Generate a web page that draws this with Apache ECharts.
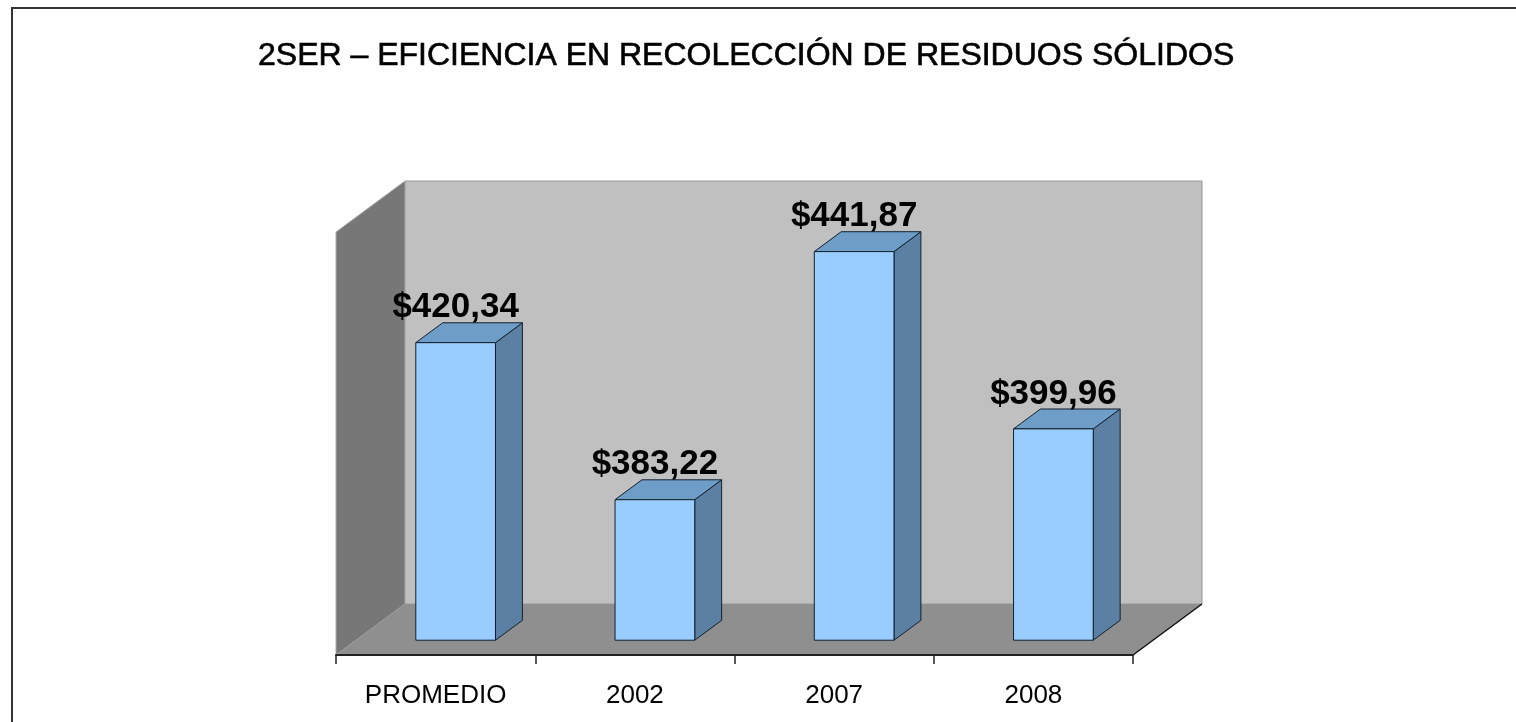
<!DOCTYPE html>
<html>
<head>
<meta charset="utf-8">
<script src="https://cdn.jsdelivr.net/npm/echarts@6/dist/echarts.min.js"></script>
<style>
  html, body { margin: 0; padding: 0; background: #fff; }
  #chart { width: 1516px; height: 722px; }
</style>
</head>
<body>
<div id="chart"></div>
<script>
// data
const categories = ['PROMEDIO', '2002', '2007', '2008']
const values = [420.34, 383.22, 441.87, 399.96]
const yMin = 350
const yMax = 450

// 3d look: depth of the box and where the bars sit inside it
const DEPTH = [69, -51]
const BAR_FRONT = 0.29
const BAR_BACK = 0.68

const fmt = (v) => '$' + v.toFixed(2).replace('.', ',')

const renderWalls = (params, api) => {
  const cs = params.coordSys
  const x0 = cs.x, y0 = cs.y, w = cs.width, h = cs.height
  const dx = DEPTH[0], dy = DEPTH[1]
  return {
    type: 'group',
    children: [
      {
        type: 'rect',
        shape: { x: x0 + dx, y: y0 + dy, width: w, height: h },
        style: { fill: '#c0c0c0', stroke: '#9a9a9a', lineWidth: 1 }
      },
      {
        type: 'polygon',
        shape: { points: [[x0, y0], [x0 + dx, y0 + dy], [x0 + dx, y0 + h + dy], [x0, y0 + h]] },
        style: { fill: '#777777', stroke: '#aaaaaa', lineWidth: 1 }
      },
      {
        type: 'polygon',
        shape: { points: [[x0, y0 + h], [x0 + dx, y0 + h + dy], [x0 + w + dx, y0 + h + dy], [x0 + w, y0 + h]] },
        style: { fill: '#8f8f8f' }
      },
      {
        type: 'line',
        shape: { x1: x0 + w, y1: y0 + h, x2: x0 + w + dx, y2: y0 + h + dy },
        style: { stroke: '#111', lineWidth: 1.5 }
      }
    ]
  }
}

const renderBar = (params, api) => {
  const idx = api.value(0)
  const val = api.value(1)
  const top = api.coord([idx, val])
  const base = api.coord([idx, yMin])
  const half = api.size([1, 0])[0] * 0.2
  const fx = DEPTH[0] * BAR_FRONT, fy = DEPTH[1] * BAR_FRONT
  const sx = DEPTH[0] * (BAR_BACK - BAR_FRONT), sy = DEPTH[1] * (BAR_BACK - BAR_FRONT)
  const xl = top[0] - half + fx
  const xr = top[0] + half + fx
  const yt = top[1] + fy
  const yb = base[1] + fy
  const edge = { stroke: '#14202c', lineWidth: 1 }
  return {
    type: 'group',
    children: [
      {
        type: 'polygon',
        shape: { points: [[xr, yt], [xr + sx, yt + sy], [xr + sx, yb + sy], [xr, yb]] },
        style: Object.assign({ fill: '#5b80a3' }, edge)
      },
      {
        type: 'polygon',
        shape: { points: [[xl, yt], [xr, yt], [xr + sx, yt + sy], [xl + sx, yt + sy]] },
        style: Object.assign({ fill: '#6e9dc8' }, edge)
      },
      {
        type: 'rect',
        shape: { x: xl, y: yt, width: xr - xl, height: yb - yt },
        style: Object.assign({ fill: '#99ccff' }, edge)
      },
      {
        type: 'text',
        z2: 10,
        style: {
          x: (xl + xr) / 2,
          y: yt - 35,
          text: fmt(val),
          align: 'center',
          verticalAlign: 'middle',
          fill: '#000',
          font: 'bold 35px "Liberation Sans", Arial, sans-serif'
        }
      }
    ]
  }
}

const chart = echarts.init(document.getElementById('chart'), null, { renderer: 'canvas' })

chart.setOption({
  animation: false,
  backgroundColor: '#fff',
  title: {
    text: '2SER – EFICIENCIA EN RECOLECCIÓN DE RESIDUOS SÓLIDOS',
    left: 258,
    top: 40,
    padding: 0,
    textStyle: {
      fontFamily: '"Liberation Sans", Arial, sans-serif',
      fontSize: 32,
      fontWeight: 'normal',
      color: '#000',
      textBorderColor: '#000',
      textBorderWidth: 0.6
    }
  },
  graphic: [
    {
      type: 'rect',
      silent: true,
      shape: { x: 12, y: 8, width: 1600, height: 800 },
      style: { fill: 'none', stroke: '#333', lineWidth: 2 }
    }
  ],
  grid: {
    left: 336,
    top: 232,
    width: 797,
    height: 423
  },
  xAxis: {
    type: 'category',
    data: categories,
    z: 10,
    axisLine: { show: true, lineStyle: { color: '#222', width: 2 } },
    axisTick: { show: true, interval: 0, length: 9, lineStyle: { color: '#222', width: 1.5 } },
    axisLabel: {
      margin: 28,
      color: '#000',
      fontSize: 26,
      fontFamily: '"Liberation Sans", Arial, sans-serif'
    },
    splitLine: { show: false }
  },
  yAxis: {
    type: 'value',
    min: yMin,
    max: yMax,
    show: false,
    splitLine: { show: false }
  },
  series: [
    {
      type: 'custom',
      z: 1,
      renderItem: renderWalls,
      data: [[0, yMin]],
      silent: true
    },
    {
      type: 'custom',
      z: 3,
      renderItem: renderBar,
      data: values.map((v, i) => [i, v])
    }
  ]
})
</script>
</body>
</html>
